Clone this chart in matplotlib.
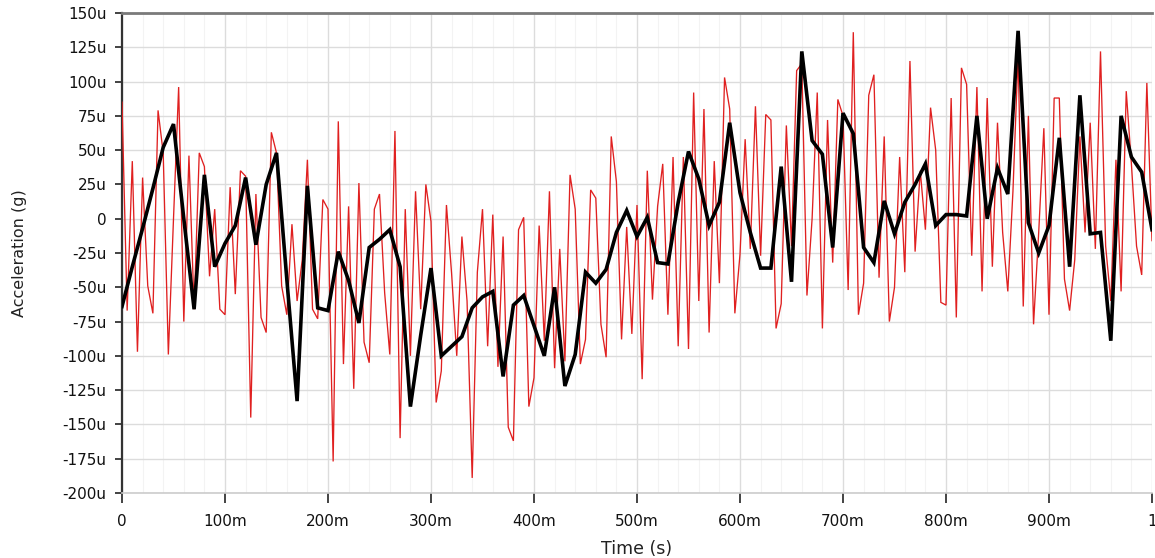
import numpy as np
import matplotlib
matplotlib.use("Agg")
import matplotlib.pyplot as plt
from matplotlib.ticker import FixedLocator, MultipleLocator, FuncFormatter

# ---- data (acceleration in micro-g) ----
red_dt = 0.005
red_values = [
    85, -67, 42, -97, 30, -49, -69, 79, 48, -99,
    0, 96, -75, 46, -66, 48, 38, -42, 7, -66,
    -70, 23, -55, 35, 31, -145, 18, -72, -83, 63,
    48, -49, -70, -4, -60, -30, 43, -66, -73, 14,
    7, -177, 71, -106, 9, -124, 26, -90, -105, 7,
    18, -54, -99, 64, -160, 7, -100, 20, -66, 25,
    -2, -134, -111, 10, -40, -100, -13, -60, -189, -39,
    7, -93, 3, -108, -13, -152, -162, -8, 1, -137,
    -116, -5, -89, 20, -109, -22, -104, 32, 7, -106,
    -88, 21, 15, -77, -101, 60, 27, -88, -6, -84,
    10, -117, 35, -59, 9, 40, -70, 45, -93, 45,
    -95, 92, -60, 80, -83, 42, -47, 103, 80, -69,
    -26, 58, -22, 82, -27, 76, 72, -80, -62, 68,
    -20, 108, 113, -56, 0, 92, -80, 72, -32, 87,
    75, -52, 136, -70, -47, 90, 105, -43, 60, -75,
    -50, 45, -39, 115, -24, 35, -8, 81, 50, -61,
    -63, 88, -72, 110, 98, -27, 96, -53, 88, -35,
    70, -10, -53, 20, 120, -64, 75, -77, -10, 66,
    -70, 88, 88, -44, -67, -30, 60, -10, 70, -22,
    122, -20, -60, 43, -53, 93, 40, -20, -41, 99,
    -16,
]
black_dt = 0.010
black_values = [
    -64, -35, -7, 22, 52, 69, 0, -66, 32, -35,
    -18, -5, 30, -19, 25, 48, -44, -133, 24, -65,
    -67, -24, -45, -76, -21, -15, -8, -35, -137, -85,
    -36, -100, -93, -86, -65, -57, -53, -115, -63, -56,
    -78, -100, -50, -122, -99, -39, -47, -37, -10, 6,
    -13, 1, -32, -33, 12, 49, 29, -5, 12, 70,
    19, -10, -36, -36, 38, -46, 122, 57, 47, -21,
    77, 62, -21, -32, 13, -11, 12, 25, 40, -5,
    3, 3, 2, 75, 0, 37, 18, 137, -3, -25,
    -5, 59, -35, 90, -11, -10, -89, 75, 45, 34,
    -8,
]
x_ticks = [0, 0.1, 0.2, 0.3, 0.4, 0.5, 0.6, 0.7, 0.8, 0.9, 1.0]
x_tick_labels = ["0", "100m", "200m", "300m", "400m", "500m", "600m",
                 "700m", "800m", "900m", "1"]
y_ticks = [150, 125, 100, 75, 50, 25, 0, -25, -50, -75, -100, -125, -150, -175, -200]

t_red = np.arange(len(red_values)) * red_dt
t_black = np.arange(len(black_values)) * black_dt

fig = plt.figure(figsize=(11.55, 5.58), dpi=100)
ax = fig.add_axes([122 / 1155, 1 - 493 / 558, 1030 / 1155, 480 / 558])

ax.plot(t_red, red_values, color="#e02020", lw=0.95, zorder=3, solid_joinstyle="miter")
ax.plot(t_black, black_values, color="#000000", lw=2.6, zorder=4, solid_joinstyle="miter")

ax.set_xlim(0, 1.0)
ax.set_ylim(-200, 150)

ax.xaxis.set_major_locator(FixedLocator(x_ticks))
ax.set_xticklabels(x_tick_labels)
ax.xaxis.set_minor_locator(MultipleLocator(0.02))
ax.yaxis.set_major_locator(FixedLocator(y_ticks))
ax.yaxis.set_major_formatter(FuncFormatter(lambda v, p: "0" if v == 0 else f"{int(v)}u"))

ax.grid(which="major", color="#dcdcdc", lw=1.0, zorder=0)
ax.grid(which="minor", axis="x", color="#f3f3f3", lw=0.8, zorder=0)
ax.set_axisbelow(True)

ax.tick_params(axis="both", which="major", direction="out", width=1.2,
               colors="#222222", labelsize=11, labelcolor="#111111")
ax.tick_params(axis="x", which="major", length=7, pad=8)
ax.tick_params(axis="y", which="major", length=5, pad=6)
ax.tick_params(axis="x", which="minor", length=0)

ax.spines["left"].set_color("#333333")
ax.spines["left"].set_linewidth(1.6)
ax.spines["top"].set_color("#7a7a7a")
ax.spines["top"].set_linewidth(2.0)
ax.spines["bottom"].set_color("#cccccc")
ax.spines["bottom"].set_linewidth(1.2)
ax.spines["right"].set_visible(False)

ax.set_xlabel("Time (s)", fontsize=12.5, color="#222222", labelpad=8)
ax.set_ylabel("Acceleration (g)", fontsize=11.5, color="#222222", labelpad=26)

fig.savefig("out.png", dpi=100, facecolor="white")
